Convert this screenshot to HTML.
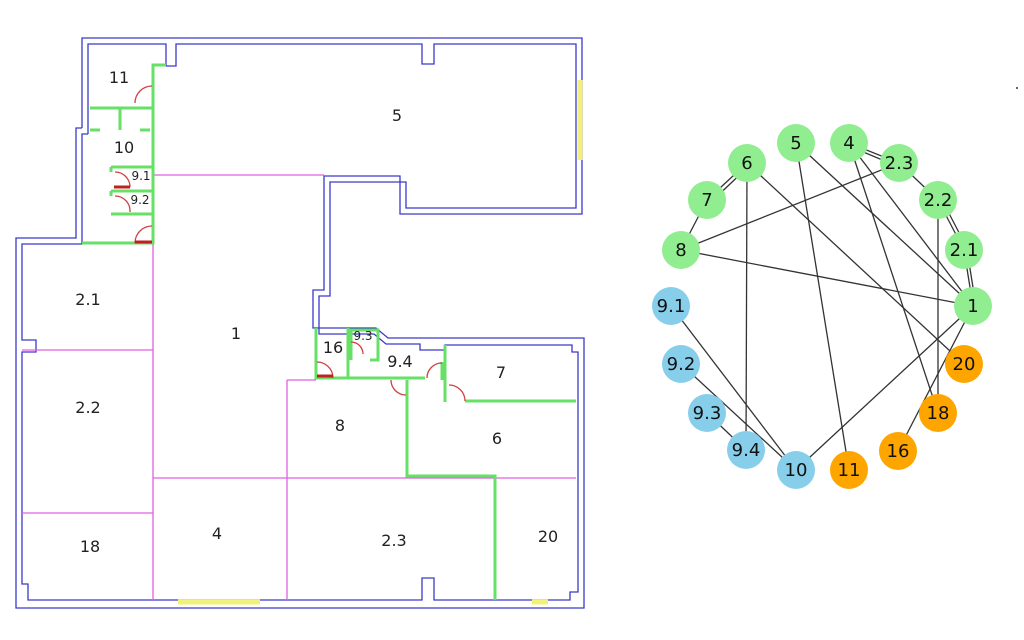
<!DOCTYPE html>
<html><head><meta charset="utf-8"><style>
html,body{margin:0;padding:0;background:#fff;width:1024px;height:640px;overflow:hidden}
svg{display:block}
text{font-family:"DejaVu Sans","Liberation Sans",sans-serif}
</style></head><body>
<svg width="1024" height="640" viewBox="0 0 1024 640">
<g fill="none" stroke="#3a3acc" stroke-width="1.3">
<polyline points="82,128 82,38 582,38 582,214 400,214 400,176 324,176 324,290 313,290 313,328 376,328 388,338 584,338 584,608 16,608 16,238 76,238 76,128 82,128"/>
<polyline points="88,134 88,44 166,44 166,66 176,66 176,44 422,44 422,64 434,64 434,44 576,44 576,208 406,208 406,182 330,182 330,296 319,296 319,334 374,334 386,344 420,344 420,350 445,350 445,345 572,345 572,352 578,352 578,592 570,592 570,600 434,600 434,578 422,578 422,600 28,600 28,584 22,584 22,352 36,352 36,340 22,340 22,244 82,244 82,134 88,134"/>
</g>
<g stroke="#f0f07a" stroke-width="5">
<line x1="580" y1="80" x2="580" y2="160"/>
<line x1="178" y1="602" x2="260" y2="602"/>
<line x1="532" y1="602" x2="548" y2="602"/>
</g>
<g stroke="#e060e0" stroke-width="1.3">
<line x1="153" y1="175" x2="324" y2="175"/>
<line x1="153" y1="243" x2="153" y2="600"/>
<line x1="22" y1="350" x2="153" y2="350"/>
<line x1="22" y1="513" x2="153" y2="513"/>
<line x1="153" y1="478" x2="576" y2="478"/>
<line x1="287" y1="380" x2="287" y2="600"/>
<line x1="287" y1="380" x2="316" y2="380"/>
</g>
<g stroke="#66e066" stroke-width="3" fill="none">
<polyline points="166,65 153,65 153,243 82,243"/>
<line x1="90" y1="108" x2="153" y2="108"/>
<line x1="120" y1="108" x2="120" y2="130"/>
<line x1="90" y1="130" x2="100" y2="130"/>
<line x1="140" y1="130" x2="150" y2="130"/>
<line x1="111" y1="167" x2="153" y2="167"/>
<line x1="111" y1="167" x2="111" y2="172"/>
<line x1="111" y1="191" x2="153" y2="191"/>
<line x1="111" y1="191" x2="111" y2="196"/>
<line x1="111" y1="214" x2="153" y2="214"/>
<polyline points="316,328 316,378 425,378"/>
<line x1="348" y1="328" x2="348" y2="378"/>
<polyline points="351,360 351,330 378,330 378,360 370,360"/>
<polyline points="407,380 407,476 495,476 495,600"/>
<polyline points="445,345 445,402"/>
<polyline points="442,362 442,380"/>
<line x1="465" y1="401" x2="576" y2="401"/>
</g>
<g stroke="#d04040" stroke-width="1.3" fill="none">
<path d="M135,103 A17,17 0 0 1 152,86"/>
<path d="M115,172 A15,15 0 0 1 130,187"/>
<path d="M115,196 A15,15 0 0 1 130,212"/>
<path d="M135,243 A17,17 0 0 1 152,226"/>
<path d="M317,362 A16,16 0 0 1 333,378"/>
<path d="M351,342 A12,12 0 0 1 363,354"/>
<path d="M391,380 A15,15 0 0 0 406,395"/>
<path d="M427,378 A15,15 0 0 1 442,363"/>
<path d="M449,385 A16,16 0 0 1 465,401"/>
</g>
<g stroke="#c02020" stroke-width="3">
<line x1="135" y1="242" x2="152" y2="242"/>
<line x1="114" y1="187" x2="130" y2="187"/>
<line x1="317" y1="376" x2="333" y2="376"/>
</g>
<g font-size="16" fill="#222" text-anchor="middle">
<text x="119" y="83">11</text>
<text x="397" y="121">5</text>
<text x="124" y="153">10</text>
<text x="88" y="305">2.1</text>
<text x="236" y="339">1</text>
<text x="88" y="413">2.2</text>
<text x="90" y="552">18</text>
<text x="217" y="539">4</text>
<text x="333" y="353">16</text>
<text x="400" y="367">9.4</text>
<text x="501" y="378">7</text>
<text x="340" y="431">8</text>
<text x="497" y="444">6</text>
<text x="394" y="546">2.3</text>
<text x="548" y="542">20</text>
</g>
<g font-size="12" fill="#222" text-anchor="middle">
<text x="141" y="180">9.1</text>
<text x="140" y="204">9.2</text>
<text x="363" y="340">9.3</text>
</g>
<circle cx="1017" cy="88" r="1" fill="#333"/>
<g stroke="#333" stroke-width="1.3">
<line x1="747" y1="163" x2="707" y2="200"/>
<line x1="749" y1="166" x2="710" y2="203"/>
<line x1="747" y1="163" x2="746" y2="450"/>
<line x1="747" y1="163" x2="964" y2="364"/>
<line x1="707" y1="200" x2="681" y2="250"/>
<line x1="681" y1="250" x2="899" y2="163"/>
<line x1="681" y1="250" x2="973" y2="306"/>
<line x1="796" y1="143" x2="849" y2="470"/>
<line x1="796" y1="143" x2="973" y2="306"/>
<line x1="849" y1="143" x2="899" y2="163"/>
<line x1="849" y1="146" x2="899" y2="167"/>
<line x1="849" y1="143" x2="973" y2="306"/>
<line x1="849" y1="143" x2="938" y2="413"/>
<line x1="899" y1="163" x2="938" y2="200"/>
<line x1="938" y1="200" x2="964" y2="250"/>
<line x1="941" y1="198" x2="967" y2="248"/>
<line x1="938" y1="200" x2="938" y2="413"/>
<line x1="964" y1="250" x2="973" y2="306"/>
<line x1="967" y1="250" x2="976" y2="306"/>
<line x1="973" y1="306" x2="796" y2="470"/>
<line x1="973" y1="306" x2="898" y2="451"/>
<line x1="671" y1="306" x2="796" y2="470"/>
<line x1="681" y1="364" x2="796" y2="470"/>
<line x1="707" y1="413" x2="746" y2="450"/>
</g>
<g>
<g fill="#90ee90">
<circle cx="747" cy="163" r="19"/><circle cx="796" cy="143" r="19"/><circle cx="849" cy="143" r="19"/>
<circle cx="899" cy="163" r="19"/><circle cx="938" cy="200" r="19"/><circle cx="964" cy="250" r="19"/>
<circle cx="973" cy="306" r="19"/><circle cx="681" cy="250" r="19"/><circle cx="707" cy="200" r="19"/>
</g>
<g fill="#ffa500">
<circle cx="964" cy="364" r="19"/><circle cx="938" cy="413" r="19"/><circle cx="898" cy="451" r="19"/><circle cx="849" cy="470" r="19"/>
</g>
<g fill="#87ceeb">
<circle cx="796" cy="470" r="19"/><circle cx="746" cy="450" r="19"/><circle cx="707" cy="413" r="19"/><circle cx="681" cy="364" r="19"/><circle cx="671" cy="306" r="19"/>
</g>
</g>
<g font-size="18" fill="#111" text-anchor="middle">
<text x="747" y="169">6</text><text x="796" y="149">5</text><text x="849" y="149">4</text>
<text x="899" y="169">2.3</text><text x="938" y="206">2.2</text><text x="964" y="256">2.1</text>
<text x="973" y="312">1</text><text x="681" y="256">8</text><text x="707" y="206">7</text>
<text x="964" y="370">20</text><text x="938" y="419">18</text><text x="898" y="457">16</text><text x="849" y="476">11</text>
<text x="796" y="476">10</text><text x="746" y="456">9.4</text><text x="707" y="419">9.3</text><text x="681" y="370">9.2</text><text x="671" y="312">9.1</text>
</g>
</svg>
</body></html>
